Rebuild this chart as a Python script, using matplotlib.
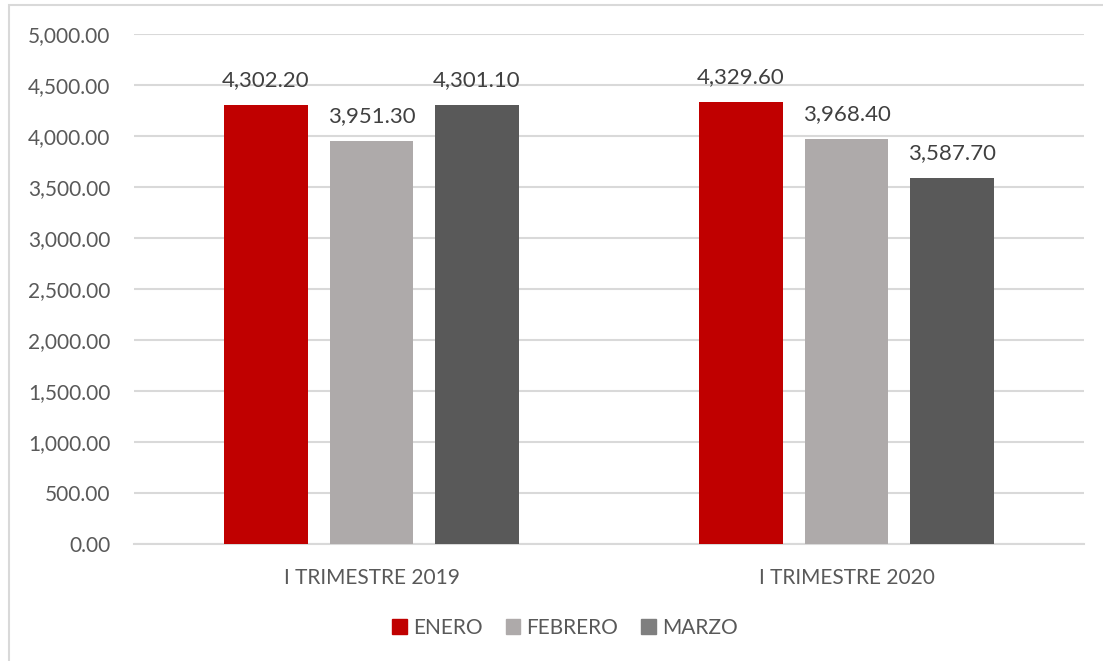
import numpy as np
import matplotlib
matplotlib.use("Agg")
import matplotlib.pyplot as plt
from matplotlib.patches import Rectangle

# chart data
categories = ["I TRIMESTRE 2019", "I TRIMESTRE 2020"]
months = ["ENERO", "FEBRERO", "MARZO"]
enero = [4302.20, 4329.60]
febrero = [3951.30, 3968.40]
marzo = [4301.10, 3587.70]
yticks = [0, 500, 1000, 1500, 2000, 2500, 3000, 3500, 4000, 4500, 5000]

colors = ["#C00000", "#AEAAAA", "#595959"]
legend_colors = ["#C00000", "#AEAAAA", "#7F7F7F"]
text_color = "#595959"

plt.rcParams["font.family"] = ["Lato", "DejaVu Sans"]

W, H = 1103, 661
fig = plt.figure(figsize=(W / 100, H / 100), dpi=100)
ax = fig.add_axes([134 / W, 1 - 544 / H, (1084 - 134) / W, (544 - 34) / H])

# outer chart border (Excel-like)
fig.patches.append(Rectangle((9 / W, -0.05), 1.2, 1 - 5 / H + 0.05, transform=fig.transFigure,
                             fill=False, edgecolor="#D9D9D9", linewidth=1.5))

x = np.arange(len(categories))
width = 0.175
step = 0.222
for i, (name, vals) in enumerate(zip(months, [enero, febrero, marzo])):
    bars = ax.bar(x + (i - 1) * step, vals, width, color=colors[i], label=name, zorder=3)
    for b, v in zip(bars, vals):
        ax.annotate(f"{v:,.2f}", (b.get_x() + b.get_width() / 2, v), xytext=(0, 11),
                    textcoords="offset points", ha="center", va="bottom",
                    fontsize=16, color="#404040")

ax.set_xlim(-0.5, 1.5)
ax.set_ylim(0, 5000)
ax.set_yticks(yticks)
ax.set_yticklabels([f"{t:,.2f}" for t in yticks])
ax.set_xticks(x)
ax.set_xticklabels(categories)
ax.tick_params(axis="both", length=0, labelsize=15, labelcolor=text_color)
ax.tick_params(axis="y", pad=17)
ax.tick_params(axis="x", pad=17)
ax.grid(axis="y", color="#D9D9D9", linewidth=1.5, zorder=0)
for s in ["top", "right", "left"]:
    ax.spines[s].set_visible(False)
ax.spines["bottom"].set_color("#D9D9D9")
ax.spines["bottom"].set_linewidth(1.5)

leg = fig.legend(loc="center", bbox_to_anchor=(565 / W, 1 - 628 / H), ncol=3, frameon=False,
                 fontsize=15, handlelength=0.7, handleheight=0.7, handletextpad=0.3,
                 columnspacing=1.1)
for t in leg.get_texts():
    t.set_color(text_color)
for h, c in zip(leg.legend_handles, legend_colors):
    h.set_facecolor(c)
    h.set_edgecolor(c)

fig.savefig("out.png", dpi=100)
